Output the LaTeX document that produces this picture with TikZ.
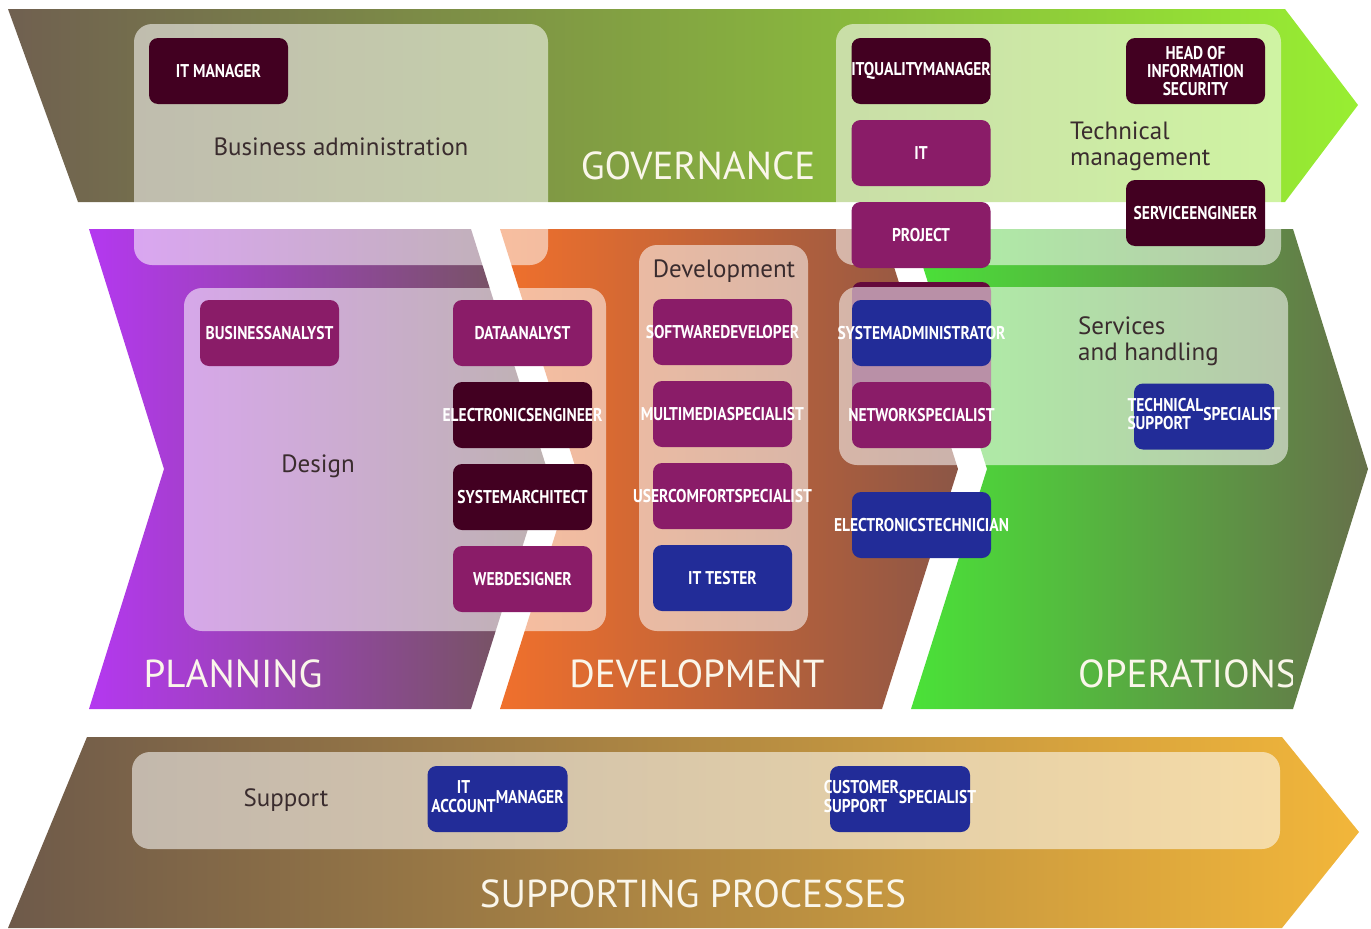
\documentclass[tikz,border=0pt]{standalone}
\usepackage{fontspec}
\setmainfont{PT Sans}
\newfontfamily\tagfont[FakeStretch=0.84]{PT Sans}
\usetikzlibrary{calc}

% band colours
\definecolor{govL}{RGB}{112,96,80}
\definecolor{govM}{RGB}{128,166,70}
\definecolor{govR}{RGB}{152,238,50}
\definecolor{plaL}{RGB}{180,56,240}
\definecolor{plaR}{RGB}{112,86,84}
\definecolor{devL}{RGB}{240,112,44}
\definecolor{devR}{RGB}{140,86,70}
\definecolor{opsL}{RGB}{74,226,56}
\definecolor{opsR}{RGB}{102,112,74}
\definecolor{supL}{RGB}{110,90,74}
\definecolor{supR}{RGB}{242,182,58}
% role boxes and texts
\definecolor{tagMaroon}{RGB}{66,0,33}
\definecolor{tagMagenta}{RGB}{138,28,104}
\definecolor{tagBlue}{RGB}{34,44,152}
\definecolor{hiddenRole}{RGB}{100,10,60}
\definecolor{phaseText}{RGB}{250,246,234}
\definecolor{areaText}{RGB}{58,44,46}

\newcommand\overw[1]{\makebox[0pt]{#1}}

\begin{document}
\begin{tikzpicture}[x=1pt,y=-1pt,
  panel/.style={fill=white, fill opacity=0.55, rounded corners=18pt},
  role/.style={rounded corners=9pt, minimum width=139pt, minimum height=66pt,
    inner sep=0pt, text=white, align=center,
    font=\tagfont\bfseries\fontsize{18.5}{18}\selectfont},
  tagdark/.style={role, fill=tagMaroon},
  tagmag/.style={role, fill=tagMagenta},
  tagblue/.style={role, fill=tagBlue},
  phase/.style={text=phaseText, inner sep=0pt, font=\fontsize{39}{42}\selectfont},
  area/.style={text=areaText, inner sep=0pt, align=left, font=\fontsize{25}{26}\selectfont},
]
\useasboundingbox (0,0) rectangle (1371,929);

% ---- process bands ----
\path[left color=govL, middle color=govM, right color=govR]
  (8,9) -- (1285,9) -- (1358,105) -- (1285,202) -- (78,202) -- cycle;
\path[left color=plaL, right color=plaR]
  (89,229) -- (471,229) -- (547,469) -- (471,709) -- (89,709) -- (164,469) -- cycle;
\path[left color=devL, right color=devR]
  (500,229) -- (882,229) -- (958,469) -- (882,709) -- (500,709) -- (576,469) -- cycle;
\path[left color=opsL, right color=opsR]
  (911,229) -- (1293,229) -- (1368,469) -- (1293,709) -- (911,709) -- (987,469) -- cycle;
\path[left color=supL, right color=supR]
  (87,737) -- (1282,737) -- (1359,832) -- (1282,928) -- (8,928) -- cycle;

% role partly covered by the services panel
\path[fill=hiddenRole, rounded corners=9pt] (852,282) rectangle (991,440);

% ---- area panels ----
\path[panel] (134,24) rectangle (548,265);
\path[panel] (836,24) rectangle (1281,265);
\path[panel] (184,288) rectangle (606,631);
\path[panel] (639,245) rectangle (808,631);
\path[panel] (839,287) rectangle (1288,465);
\path[panel] (132,752) rectangle (1280,849);

% ---- area labels ----
\node[area] (lbiz) at (341,147) {Business administration};
\node[area, anchor=west] (ltech) at (1070,146) {Technical\\management};
\node[area] (ldes) at (318,466) {Design};
\node[area] (ldev) at (724,271) {Development};
\node[area, anchor=west] (lsvc) at (1078,341) {Services\\and handling};
\node[area] (lsup) at (286,800) {Support};

% ---- phase labels ----
\node[phase] (pgov) at (698,166) {GOVERNANCE};
\node[phase] (ppla) at (233,674) {PLANNING};
\node[phase] (pdev) at (697,674) {DEVELOPMENT};
\begin{scope}
  \clip (911,229) rectangle (1292,709);
  \node[phase, anchor=west] (pops) at (1078,674) {OPERATIONS};
\end{scope}
\node[phase] (psup) at (693,894) {SUPPORTING PROCESSES};

% ---- roles ----
\node[tagdark] (itmgr)   at (218.5,71)  {\overw{IT MANAGER}};
\node[tagdark] (itqm)    at (921,71)    {\overw{ITQUALITYMANAGER}};
\node[tagdark] (hois)    at (1195.5,71) {HEAD OF\\INFORMATION\\SECURITY};
\node[tagmag]  (itpm)    at (921,153)   {\overw{IT}};
\node[tagmag]  (proj)    at (921,235)   {\overw{PROJECT}};
\node[tagdark] (serveng) at (1195.5,213){\overw{SERVICEENGINEER}};

\node[tagmag]  (busan)   at (269.5,333) {\overw{BUSINESSANALYST}};
\node[tagmag]  (dataan)  at (522.5,333) {\overw{DATAANALYST}};
\node[tagdark] (eleng)   at (522.5,415) {\overw{ELECTRONICSENGINEER}};
\node[tagdark] (sysarch) at (522.5,497) {\overw{SYSTEMARCHITECT}};
\node[tagmag]  (webdes)  at (522.5,579) {\overw{WEBDESIGNER}};

\node[tagmag]  (softdev) at (722.5,332) {\overw{SOFTWAREDEVELOPER}};
\node[tagmag]  (multi)   at (722.5,414) {\overw{MULTIMEDIASPECIALIST}};
\node[tagmag]  (usercom) at (722.5,496) {\overw{USERCOMFORTSPECIALIST}};
\node[tagblue] (ittest)  at (722.5,578) {\overw{IT TESTER}};

\node[tagblue] (sysadm)  at (921.5,333) {\overw{SYSTEMADMINISTRATOR}};
\node[tagmag]  (netspec) at (921.5,415) {\overw{NETWORKSPECIALIST}};
\node[tagblue] (eltech)  at (921.5,525) {\overw{ELECTRONICSTECHNICIAN}};
\node[tagblue, minimum width=140pt] (techsup) at (1204,416.5)
  {\overw{\begin{tabular}{@{}l@{}}TECHNICAL\\SUPPORT\end{tabular}SPECIALIST}};

\node[tagblue, minimum width=140pt] (itacc) at (497.5,799)
  {\overw{\begin{tabular}{@{}c@{}}IT\\ACCOUNT\end{tabular}MANAGER}};
\node[tagblue, minimum width=140pt] (custsup) at (900,799)
  {\overw{\begin{tabular}{@{}l@{}}CUSTOMER\\SUPPORT\end{tabular}SPECIALIST}};
\end{tikzpicture}
\end{document}
